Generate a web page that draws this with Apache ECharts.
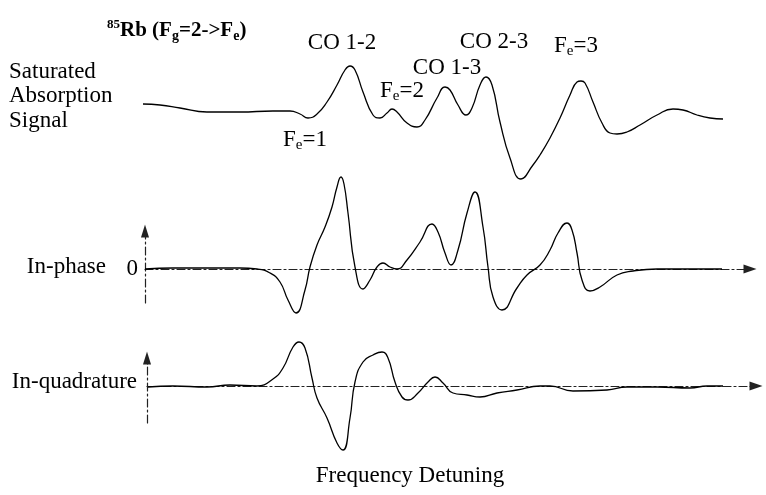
<!DOCTYPE html>
<html>
<head>
<meta charset="utf-8">
<script src="https://cdn.jsdelivr.net/npm/echarts@6/dist/echarts.min.js"></script>
<style>
  html, body { margin: 0; padding: 0; background: #fff; }
  #chartBox { width: 766px; height: 495px; }
</style>
</head>
<body>
<div id="chartBox"></div>
<script>
// frequency detuning (arbitrary units, shared by all three traces)
const absDetuning = [143, 160, 180, 207, 240, 273, 290, 300, 308, 317, 327, 337, 345, 350, 355, 363, 373, 380, 387, 392, 397, 407, 417, 425, 437, 445, 450, 458, 466, 472, 480, 486, 492, 500, 510, 521, 533, 540, 550, 560, 570, 577, 581, 585, 593, 602, 610, 617, 627, 640, 657, 673, 683, 697, 710, 723]
const absSignal = [8, 7, 4, 0, 0, 1, 1, -2, -6, -2, 10, 27, 42, 46, 42, 20, -3, -6, -1, 3, 0, -11, -15, -8, 14, 25, 22, 7, -3, 4, 27, 35, 27, -10, -46, -67, -53, -43, -26, -6, 17, 30, 31, 29, 10, -11, -21, -22, -20, -13, -3, 3, 2, -3, -6, -7]

const phaseDetuning = [145, 173, 207, 240, 257, 270, 280, 288, 296, 305, 310, 317, 325, 332, 337, 341, 344, 348, 355, 363, 370, 377, 383, 390, 397, 407, 420, 432, 438, 445, 451, 458, 467, 475, 483, 488, 493, 502, 517, 527, 540, 550, 558, 567, 572, 577, 582, 590, 600, 617, 633, 657, 690, 713, 722]
const phaseSignal = [0, 1, 1, 1, 0, -4, -13, -31, -44, -21, 2, 24, 42, 62, 82, 92, 85, 56, 2, -20, -11, 2, 6, 2, 0, 9, 27, 45, 37, 16, 4, 19, 56, 77, 42, 2, -28, -41, -19, -6, 4, 19, 36, 46, 39, 16, -11, -22, -18, -6, -2, 0, 0, 0, 0]

const quadDetuning = [148, 173, 207, 230, 257, 273, 283, 293, 299, 305, 312, 317, 327, 337, 343, 350, 355, 363, 373, 382, 388, 395, 402, 408, 418, 428, 435, 443, 453, 467, 480, 497, 517, 540, 550, 573, 607, 627, 657, 690, 707, 723]
const quadSignal = [-1, 0, -1, 1, 0, 7, 18, 39, 44, 38, 8, -12, -32, -57, -64, -32, 4, 24, 31, 34, 28, 4, -11, -14, -7, 4, 9, 3, -7, -9, -11, -7, -4, 0, 0, -5, -4, -1, -1, -2, 0, 0]

const phaseTicks = [0]

const serif = '"Liberation Serif", "Times New Roman", serif'
const axisStroke = { type: [8, 3, 2, 3], color: '#222', width: 1.2 }

function zip(xs, ys) {
  return xs.map((x, i) => [x, ys[i]])
}

function hiddenParts() {
  return {
    axisTick: { show: false },
    axisLabel: { show: false },
    splitLine: { show: false }
  }
}

function curve(name, idx, xs, ys) {
  return {
    name: name,
    type: 'line',
    xAxisIndex: idx,
    yAxisIndex: idx,
    data: zip(xs, ys),
    showSymbol: false,
    smooth: 0.5,
    clip: false,
    lineStyle: { color: '#000', width: 1.3 }
  }
}

const label = (text, x, y, align) => ({
  type: 'text',
  x: x,
  y: y,
  style: {
    text: text,
    fill: '#000',
    fontSize: 23,
    fontFamily: serif,
    align: align || 'left',
    textAlign: align || 'left',
    verticalAlign: 'middle',
    textVerticalAlign: 'middle',
    rich: {
      n: { fontSize: 23, fontFamily: serif, color: '#000', lineHeight: 26 },
      sub: { fontSize: 15, fontFamily: serif, color: '#000', verticalAlign: 'bottom', lineHeight: 26 }
    }
  }
})

const option = {
  animation: false,
  backgroundColor: '#fff',
  grid: [
    { left: 0, top: 0, width: 766, height: 495 },
    { left: 145, top: 231, width: 605, height: 72 },
    { left: 147, top: 358, width: 609, height: 65 }
  ],
  xAxis: [
    { type: 'value', gridIndex: 0, min: 0, max: 766, show: false },
    {
      type: 'value', gridIndex: 1, min: 145, max: 750,
      axisLine: { show: true, onZero: true, symbol: ['none', 'triangle'], symbolSize: [9, 13], lineStyle: axisStroke },
      ...hiddenParts()
    },
    {
      type: 'value', gridIndex: 2, min: 147, max: 756,
      axisLine: { show: true, onZero: true, symbol: ['none', 'triangle'], symbolSize: [9, 13], lineStyle: axisStroke },
      ...hiddenParts()
    }
  ],
  yAxis: [
    { type: 'value', gridIndex: 0, min: -383, max: 112, show: false },
    {
      type: 'value', gridIndex: 1, min: -34, max: 38,
      axisLine: { show: true, onZero: false, symbol: ['none', 'triangle'], symbolSize: [8, 13], lineStyle: axisStroke },
      axisTick: { show: false },
      splitLine: { show: false },
      axisLabel: { show: true, customValues: phaseTicks, color: '#000', fontSize: 23, fontFamily: serif, margin: 7 }
    },
    {
      type: 'value', gridIndex: 2, min: -37, max: 28,
      axisLine: { show: true, onZero: false, symbol: ['none', 'triangle'], symbolSize: [8, 13], lineStyle: axisStroke },
      ...hiddenParts()
    }
  ],
  series: [
    curve('Saturated Absorption Signal', 0, absDetuning, absSignal),
    curve('In-phase', 1, phaseDetuning, phaseSignal),
    curve('In-quadrature', 2, quadDetuning, quadSignal)
  ],
  graphic: [
    {
      type: 'text',
      x: 107,
      y: 31,
      style: {
        text: '{sup|85}{b|Rb (F}{bs|g}{b|=2->F}{bs|e}{b|)}',
        align: 'left',
        textAlign: 'left',
        verticalAlign: 'middle',
        textVerticalAlign: 'middle',
        rich: {
          b: { fontSize: 21, fontWeight: 'bold', fontFamily: serif, color: '#000', lineHeight: 25 },
          sup: { fontSize: 13, fontWeight: 'bold', fontFamily: serif, color: '#000', verticalAlign: 'top', lineHeight: 25 },
          bs: { fontSize: 14, fontWeight: 'bold', fontFamily: serif, color: '#000', verticalAlign: 'bottom', lineHeight: 25 }
        }
      }
    },
    label('{n|Saturated}', 9, 72),
    label('{n|Absorption}', 9, 96),
    label('{n|Signal}', 9, 121),
    label('{n|CO 1-2}', 342, 43, 'center'),
    label('{n|CO 2-3}', 494, 42, 'center'),
    label('{n|CO 1-3}', 447, 68, 'center'),
    label('{n|F}{sub|e}{n|=3}', 576, 46, 'center'),
    label('{n|F}{sub|e}{n|=2}', 402, 91, 'center'),
    label('{n|F}{sub|e}{n|=1}', 305, 140, 'center'),
    label('{n|In-phase}', 106, 267, 'right'),
    label('{n|In-quadrature}', 137, 382, 'right'),
    label('{n|Frequency Detuning}', 410, 476, 'center')
  ]
}

const charts = echarts.init(document.getElementById('chartBox'))
charts.setOption(option)
</script>
</body>
</html>
